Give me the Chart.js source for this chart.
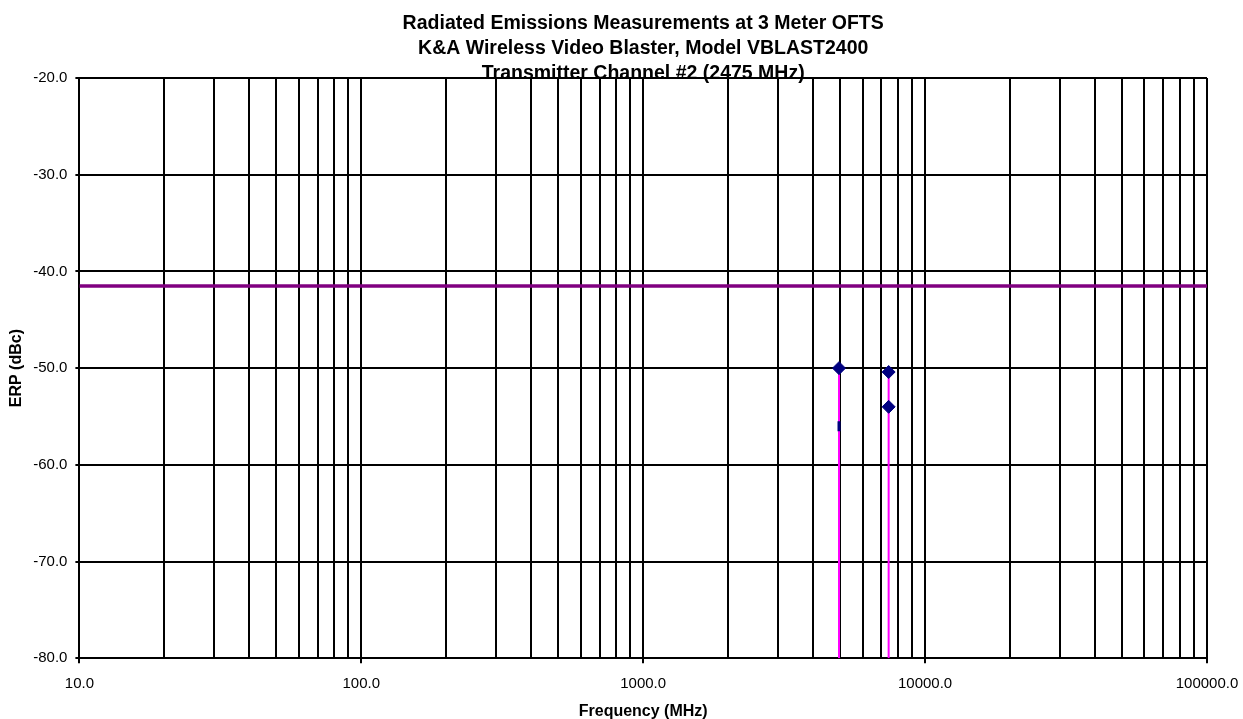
<!DOCTYPE html>
<html>
<head>
<meta charset="utf-8">
<script src="https://cdn.jsdelivr.net/npm/chart.js@4.4.0/dist/chart.umd.min.js"></script>
<style>
  html,body{margin:0;padding:0;background:#fff;}
  #wrap{width:1243px;height:719px;}
</style>
</head>
<body>
<div id="wrap"><canvas id="chart" width="1243" height="719"></canvas></div>
<script>
// measured emissions (MHz / dBc)
const freqs = [4950, 7425, 7425];
const erp = [-50.0, -50.4, -54.0];
// the small hidden mark under the 4950 MHz stem
const extraFreqs = [4950];
const extraErp = [-56.0];
// limit line
const limitLevel = -41.5;
const xMin = 10, xMax = 100000;
const yMin = -80, yMax = -20, yStep = 10;
const titleLines = [
  'Radiated Emissions Measurements at 3 Meter OFTS',
  'K&A Wireless Video Blaster, Model VBLAST2400',
  'Transmitter Channel #2 (2475 MHz)'
];

const FONT = "'Liberation Sans', Arial, sans-serif";

// stems from the bottom of the plot up to the highest point at each frequency
var stems = [];
var seen = {};
freqs.forEach((f, i) => {
  if (seen[f] === undefined || erp[i] > seen[f]) seen[f] = erp[i];
});
Object.keys(seen).forEach(f => {
  stems.push({
    label: 'stem ' + f,
    type: 'line',
    data: [{x: +f, y: yMin}, {x: +f, y: seen[f]}],
    borderColor: '#FF00FF',
    borderWidth: 2,
    pointRadius: 0,
    order: 2
  });
});

const isDecade = v => Math.abs(Math.log10(v) - Math.round(Math.log10(v))) < 1e-9;

var ctx = document.getElementById('chart').getContext('2d');
var myChart = new Chart(ctx, {
  type: 'scatter',
  data: {
    datasets: [
      {
        label: 'ERP',
        data: freqs.map((f, i) => ({x: f, y: erp[i]})),
        pointStyle: 'rectRot',
        radius: 6.5,
        borderWidth: 1,
        backgroundColor: '#000080',
        borderColor: '#000080',
        order: 0
      },
      {
        label: 'extra',
        data: extraFreqs.map((f, i) => ({x: f, y: extraErp[i]})),
        pointStyle: 'line',
        rotation: 90,
        radius: 5,
        borderWidth: 3,
        borderColor: '#000080',
        order: 0
      },
      ...stems,
      {
        label: 'Limit',
        type: 'line',
        data: [{x: xMin, y: limitLevel}, {x: xMax, y: limitLevel}],
        borderColor: '#800080',
        borderWidth: 3.5,
        pointRadius: 0,
        order: 3
      }
    ]
  },
  options: {
    responsive: false,
    animation: false,
    layout: {padding: {top: 0, right: 0, bottom: 0, left: 0}},
    plugins: {
      legend: {display: false},
      tooltip: {enabled: false},
      title: {
        display: true,
        fullSize: false,
        text: titleLines,
        color: '#000',
        font: {family: FONT, size: 19.5, weight: 'bold', lineHeight: 1.282},
        padding: {top: 11, bottom: -8}
      }
    },
    scales: {
      x: {
        type: 'logarithmic',
        min: xMin,
        max: xMax,
        afterBuildTicks: scale => {
          var t = [];
          for (var e = 1; e <= 4; e++) {
            for (var s = 1; s <= 9; s++) t.push({value: s * Math.pow(10, e)});
          }
          t.push({value: xMax});
          scale.ticks = t;
        },
        afterFit: scale => { scale.paddingRight = 36; },
        ticks: {
          autoSkip: false,
          maxRotation: 0,
          padding: 12,
          color: '#000',
          font: {family: FONT, size: 15},
          callback: v => isDecade(v) ? v.toFixed(1) : ''
        },
        grid: {
          color: '#000',
          lineWidth: 2,
          tickLength: 5,
          tickColor: c => (c.tick && isDecade(c.tick.value)) ? '#000' : 'rgba(0,0,0,0)'
        },
        border: {color: '#000', width: 2},
        title: {
          display: true,
          text: 'Frequency (MHz)',
          color: '#000',
          font: {family: FONT, size: 16, weight: 'bold'},
          padding: {top: -3.5, bottom: -2}
        }
      },
      y: {
        min: yMin,
        max: yMax,
        ticks: {
          stepSize: yStep,
          padding: 8,
          color: '#000',
          font: {family: FONT, size: 15},
          callback: v => v.toFixed(1)
        },
        grid: {color: '#000', lineWidth: 2, tickLength: 4},
        border: {color: '#000', width: 2},
        title: {
          display: true,
          text: 'ERP (dBc)',
          color: '#000',
          font: {family: FONT, size: 16, weight: 'bold'},
          padding: {top: 7, bottom: -1}
        }
      }
    }
  }
});
</script>
</body>
</html>
